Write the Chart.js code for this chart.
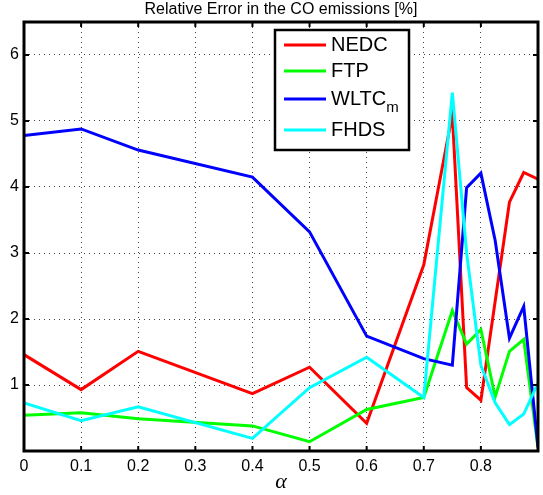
<!DOCTYPE html>
<html lang="en">
<head>
<meta charset="UTF-8">
<title>Relative Error in the CO emissions</title>
<script src="https://cdn.jsdelivr.net/npm/chart.js@4.4.0/dist/chart.umd.min.js"></script>
<style>
  html, body { margin: 0; padding: 0; background: #fff; }
</style>
</head>
<body>
<canvas id="coChart" width="543" height="495"></canvas>
<script>
// values
const alphas = [0, 0.1, 0.2, 0.4, 0.5, 0.6, 0.7, 0.75, 0.775, 0.8, 0.825, 0.85, 0.875, 0.9];
const nedc   = [1.46, 0.93, 1.51, 0.87, 1.27, 0.42, 2.82, 5.10, 0.96, 0.77, 2.27, 3.77, 4.22, 4.12];
const ftp    = [0.54, 0.58, 0.49, 0.38, 0.14, 0.63, 0.81, 2.13, 1.62, 1.84, 0.82, 1.51, 1.69, 0.05];
const wltc   = [4.78, 4.88, 4.56, 4.15, 3.32, 1.74, 1.40, 1.30, 3.99, 4.21, 3.19, 1.71, 2.19, 0.06];
const fhds   = [0.73, 0.46, 0.67, 0.19, 0.96, 1.42, 0.81, 5.43, 3.00, 1.30, 0.73, 0.40, 0.56, 1.03];

const seriesNames  = ['NEDC', 'FTP', 'WLTC', 'FHDS'];
const seriesColors = ['#ff0000', '#00ff00', '#0000ff', '#00ffff'];
const xTicks = [0, 0.1, 0.2, 0.3, 0.4, 0.5, 0.6, 0.7, 0.8];
const yTicks = [1, 2, 3, 4, 5, 6];

const sans = "'Liberation Sans', Arial, sans-serif";

function toPoints(ys) {
  return alphas.map((a, i) => ({ x: a, y: ys[i] }));
}

const allSeries = [nedc, ftp, wltc, fhds];
const datasets = allSeries.map((ys, i) => ({
  label: seriesNames[i],
  data: toPoints(ys),
  borderColor: seriesColors[i],
  backgroundColor: seriesColors[i],
  borderWidth: 3,
  pointRadius: 0,
  tension: 0,
  order: 4 - i
}));

// box, inner ticks, legend and title, matlab style
const frame = {
  id: 'frame',
  afterDraw(chart) {
    const ctx = chart.ctx;
    const a = chart.chartArea;
    const xs = chart.scales.x, ys = chart.scales.y;
    ctx.save();
    ctx.strokeStyle = '#000';
    ctx.lineWidth = 2;
    ctx.beginPath();
    xTicks.forEach(v => {
      const px = xs.getPixelForValue(v);
      ctx.moveTo(px, a.bottom); ctx.lineTo(px, a.bottom - 5);
      ctx.moveTo(px, a.top); ctx.lineTo(px, a.top + 5);
    });
    yTicks.forEach(v => {
      const py = ys.getPixelForValue(v);
      ctx.moveTo(a.left, py); ctx.lineTo(a.left + 5, py);
      ctx.moveTo(a.right, py); ctx.lineTo(a.right - 5, py);
    });
    ctx.stroke();

    ctx.lineWidth = 3;
    ctx.strokeRect(a.left, a.top, a.right - a.left, a.bottom - a.top);

    // title
    ctx.fillStyle = '#000';
    ctx.font = '16px ' + sans;
    ctx.textAlign = 'center';
    ctx.textBaseline = 'middle';
    ctx.fillText('Relative Error in the CO emissions [%]', (a.left + a.right) / 2, 10);

    // legend
    const lx = 275, ly = 30, lw = 134, lh = 120;
    ctx.fillStyle = '#fff';
    ctx.fillRect(lx, ly, lw, lh);
    ctx.lineWidth = 2.5;
    ctx.strokeRect(lx, ly, lw, lh);
    const rowY = [45, 71, 99, 130];
    const legFont = "20px 'Liberation Sans Narrow', 'Liberation Sans', Arial, sans-serif";
    seriesNames.forEach((name, i) => {
      const y = rowY[i];
      ctx.strokeStyle = seriesColors[i];
      ctx.lineWidth = 3;
      ctx.beginPath();
      ctx.moveTo(284, y); ctx.lineTo(326, y);
      ctx.stroke();
      ctx.fillStyle = '#000';
      ctx.textAlign = 'left';
      ctx.textBaseline = 'middle';
      ctx.font = legFont;
      ctx.fillText(name, 331, y);
      if (name === 'WLTC') {
        const w = ctx.measureText(name).width;
        ctx.font = "15px 'Liberation Sans Narrow', 'Liberation Sans', Arial, sans-serif";
        ctx.fillText('m', 331 + w, y + 9);
      }
    });
    ctx.restore();
  }
};

new Chart(document.getElementById('coChart'), {
  type: 'line',
  data: { datasets: datasets },
  options: {
    responsive: false,
    animation: false,
    layout: { padding: { top: 22, right: 5, left: 0, bottom: 0 } },
    plugins: {
      legend: { display: false },
      title: { display: false },
      tooltip: { enabled: false }
    },
    scales: {
      x: {
        type: 'linear',
        min: 0,
        max: 0.9,
        afterBuildTicks: s => { s.ticks = xTicks.map(v => ({ value: v })); },
        afterFit: s => { s.height = 44; },
        grid: { color: '#444', lineWidth: 1, drawTicks: false },
        border: { display: false, dash: [1, 4] },
        ticks: {
          color: '#000',
          font: { family: sans, size: 16 },
          padding: 6,
          maxRotation: 0,
          autoSkip: false,
          callback: v => String(+Number(v).toFixed(1))
        },
        title: {
          display: true,
          text: 'α',
          color: '#000',
          font: { family: "'Liberation Serif', serif", style: 'italic', size: 22 },
          padding: { top: 0, bottom: 0 }
        }
      },
      y: {
        min: 0,
        max: 6.5,
        afterBuildTicks: s => { s.ticks = yTicks.map(v => ({ value: v })); },
        afterFit: s => { s.width = 24; },
        grid: { color: '#444', lineWidth: 1, drawTicks: false },
        border: { display: false, dash: [1, 4] },
        ticks: {
          color: '#000',
          font: { family: sans, size: 16 },
          padding: 5
        }
      }
    }
  },
  plugins: [frame]
});
</script>
</body>
</html>
